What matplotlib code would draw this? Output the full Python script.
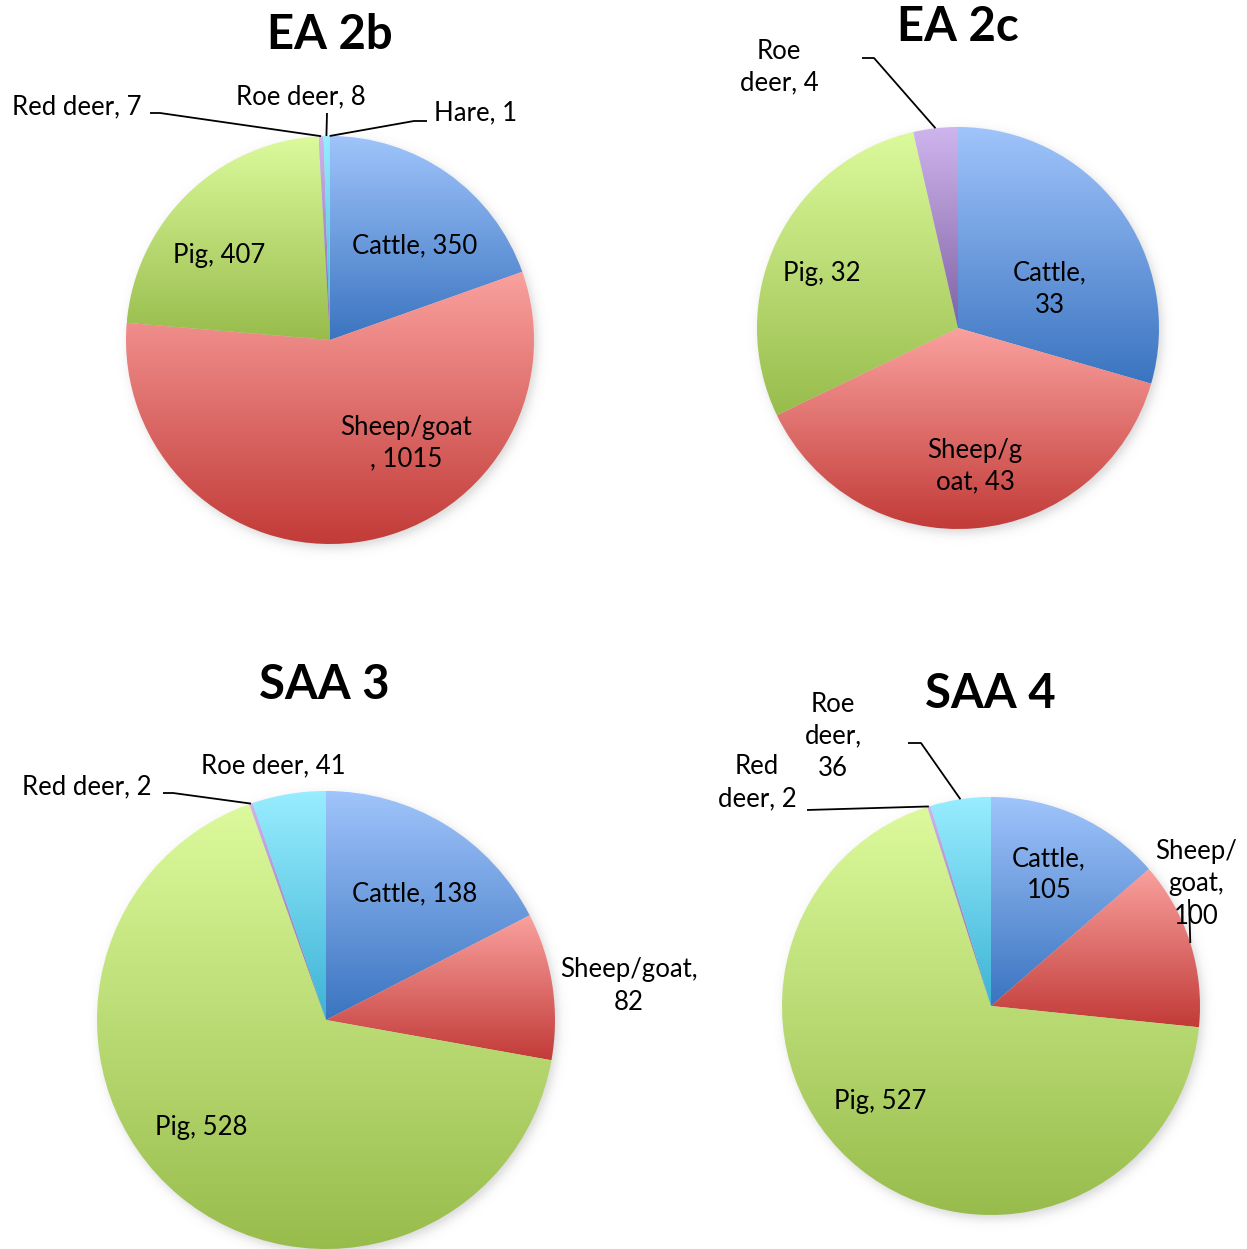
import numpy as np
import matplotlib
matplotlib.use("Agg")
import matplotlib.pyplot as plt
from matplotlib.transforms import Bbox, TransformedBbox

W, H = 1247, 1249

# ---- data -------------------------------------------------------------
ea2b_names = ["Cattle", "Sheep/goat", "Pig", "Red deer", "Roe deer", "Hare"]
ea2b_values = [350, 1015, 407, 7, 8, 1]

ea2c_names = ["Cattle", "Sheep/goat", "Pig", "Roe deer"]
ea2c_values = [33, 43, 32, 4]

saa3_names = ["Cattle", "Sheep/goat", "Pig", "Red deer", "Roe deer"]
saa3_values = [138, 82, 528, 2, 41]

saa4_names = ["Cattle", "Sheep/goat", "Pig", "Red deer", "Roe deer"]
saa4_values = [105, 100, 527, 2, 36]

titles = ["EA 2b", "EA 2c", "SAA 3", "SAA 4"]

# gradient (top, bottom) colours by slice position
palette = [
    ("#A0C4FB", "#3A74C0"),   # blue
    ("#FAA19E", "#C23B38"),   # red
    ("#DCFA9C", "#98BC4C"),   # green
    ("#CFB5EE", "#7F62A3"),   # purple
    ("#98EDFF", "#3DB3D5"),   # aqua
    ("#FFC08C", "#E8781E"),   # orange
]

plt.rcParams["font.family"] = ["Lato", "DejaVu Sans"]
LABEL_FS = 18.5
TITLE_FS = 34

fig = plt.figure(figsize=(W / 100, H / 100), dpi=100)
ax = fig.add_axes([0, 0, 1, 1])


def P(x, y):
    """pixel position (origin top-left) -> data coordinates"""
    return x, H - y


def hex2rgb(h):
    return np.array(matplotlib.colors.to_rgb(h))


def draw_shadow(cx, cy, r, dx=3.0, dy=4.0, soft=3.0, alpha=0.28):
    pad = 30
    n = int(2 * (r + pad))
    xs = np.arange(n) - n / 2 + 0.5
    X, Y = np.meshgrid(xs, xs)
    d = np.hypot(X - dx, Y - dy) - r
    a = alpha / (1.0 + np.exp(d / soft))
    img = np.zeros((n, n, 4))
    img[..., :3] = 0.45
    img[..., 3] = a
    ax.imshow(img, extent=(cx - n / 2, cx + n / 2, cy - n / 2, cy + n / 2),
              origin="upper", zorder=0.5, interpolation="bilinear")


def draw_pie(values, center_px, r):
    cx, cy = P(*center_px)
    draw_shadow(cx, cy, r)
    wedges, _ = ax.pie(values, startangle=90, counterclock=False,
                       center=(cx, cy), radius=r, colors=["none"] * len(values),
                       wedgeprops=dict(linewidth=0), frame=True)
    for i, w in enumerate(wedges):
        top, bot = palette[i]
        t = np.linspace(0, 1, 256)[:, None]
        grad = hex2rgb(top)[None, :] * (1 - t) + hex2rgb(bot)[None, :] * t
        grad = grad[:, None, :]
        bb = w.get_path().get_extents()
        im = ax.imshow(grad, extent=(bb.x0, bb.x1, bb.y0, bb.y1), origin="upper",
                       interpolation="bilinear", zorder=2)
        im.set_clip_path(w)
    return wedges


def edge_point(wedge):
    mid = np.deg2rad((wedge.theta1 + wedge.theta2) / 2)
    cx, cy = wedge.center
    return cx + wedge.r * np.cos(mid), cy + wedge.r * np.sin(mid)


def label(text, x, y, **kw):
    return ax.text(*P(x, y), text, ha="center", va="center", fontsize=LABEL_FS,
                   linespacing=1.35, zorder=5, **kw)


def leader(points_px, wedge):
    pts = [P(*p) for p in points_px] + [edge_point(wedge)]
    xs, ys = zip(*pts)
    ax.plot(xs, ys, color="black", lw=1.3, zorder=4, solid_capstyle="butt")


def lab(names, values, i, sep=", "):
    return f"{names[i]}{sep}{values[i]}"


# ---- EA 2b ----
w = draw_pie(ea2b_values, (330, 340), 204)
ax.text(*P(330, 35), titles[0], ha="center", va="center", fontsize=TITLE_FS,
        fontweight="bold")
label(lab(ea2b_names, ea2b_values, 0), 415, 246)
label("Sheep/goat\n, " + str(ea2b_values[1]), 406, 443)
label(lab(ea2b_names, ea2b_values, 2), 219, 255)
label(lab(ea2b_names, ea2b_values, 3), 77, 107)
label(lab(ea2b_names, ea2b_values, 4), 301, 97)
label(lab(ea2b_names, ea2b_values, 5), 476, 113)
leader([(150, 113), (160, 113)], w[3])
leader([(327, 113)], w[4])
leader([(427, 121), (414, 121)], w[5])

# ---- EA 2c ----
w = draw_pie(ea2c_values, (958, 328), 201)
ax.text(*P(958, 27), titles[1], ha="center", va="center", fontsize=TITLE_FS,
        fontweight="bold")
label("Cattle,\n" + str(ea2c_values[0]), 1050, 289)
label("Sheep/g\noat, " + str(ea2c_values[1]), 975, 466)
label(lab(ea2c_names, ea2c_values, 2), 822, 273)
label("Roe\ndeer, " + str(ea2c_values[3]), 779, 67)
leader([(862, 58), (874, 58)], w[3])

# ---- SAA 3 ----
w = draw_pie(saa3_values, (326, 1020), 229)
ax.text(*P(324, 685), titles[2], ha="center", va="center", fontsize=TITLE_FS,
        fontweight="bold")
label(lab(saa3_names, saa3_values, 0), 415, 894)
sg = label("Sheep/goat,\n" + str(saa3_values[1]), 629, 986)
# the label box is cut at its right edge
sg.set_clip_box(TransformedBbox(Bbox([[0, 0], [697, H]]), ax.transData))
sg.set_clip_path(None)
sg.set_clip_on(True)
label(lab(saa3_names, saa3_values, 2), 201, 1128)
label(lab(saa3_names, saa3_values, 3), 87, 787)
label(lab(saa3_names, saa3_values, 4), 273, 766)
leader([(163, 793), (173, 793)], w[3])

# ---- SAA 4 ----
w = draw_pie(saa4_values, (991, 1006), 209)
ax.text(*P(990, 694), titles[3], ha="center", va="center", fontsize=TITLE_FS,
        fontweight="bold")
label("Cattle,\n" + str(saa4_values[0]), 1049, 875)
label("Sheep/\ngoat,\n" + str(saa4_values[1]), 1196, 884)
label(lab(saa4_names, saa4_values, 2), 880, 1101)
label("Red\ndeer, " + str(saa4_values[3]), 757, 783)
label("Roe\ndeer,\n" + str(saa4_values[4]), 833, 736)
leader([(908, 743), (921, 743)], w[4])
leader([(807, 810)], w[3])
leader([(1189, 899)], w[1])

ax.set_xlim(0, W)
ax.set_ylim(0, H)
ax.set_aspect("equal")
ax.axis("off")

fig.savefig("out.png", dpi=100, facecolor="white")
